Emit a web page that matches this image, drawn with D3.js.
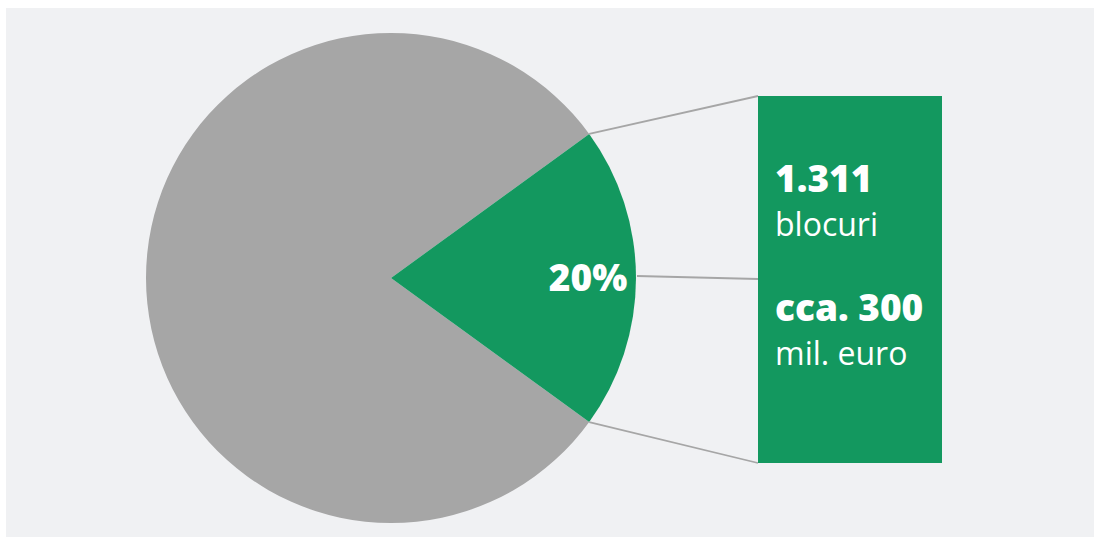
<!DOCTYPE html>
<html>
<head>
<meta charset="utf-8">
<script src="https://cdn.jsdelivr.net/npm/d3@7"></script>
<style>
  body { margin: 0; background: #fff; font-family: "Open Sans", sans-serif; }
  svg { display: block; }
</style>
</head>
<body>
<svg id="chart" width="1094" height="537"></svg>
<script>
// date: ponderea blocurilor
var sliceNames = ["restul", "blocuri"];
var sliceValues = [80, 20];
var sliceColors = ["#a6a6a6", "#13985f"];
var boxLines = [
  { text: "1.311", bold: true },
  { text: "blocuri", bold: false },
  { text: "cca. 300", bold: true },
  { text: "mil. euro", bold: false }
];

var W = 1094, H = 537;
var svg = d3.select("#chart");

svg.append("rect").attr("x", 6).attr("y", 8).attr("width", W - 6).attr("height", H - 8)
  .attr("fill", "#f0f1f3");

var cx = 391, cy = 278, r = 245;
var g = svg.append("g").attr("transform", "translate(" + cx + "," + cy + ")");

// felia verde centrata pe dreapta
var share = sliceValues[1] / d3.sum(sliceValues);
var start = Math.PI / 2 + share * Math.PI;
var pie = d3.pie().sort(null).value(function(d) { return d; })
  .startAngle(start).endAngle(start + 2 * Math.PI);
var arcs = pie(sliceValues);
var arc = d3.arc().innerRadius(0).outerRadius(r);

g.selectAll("path.slice").data(arcs).enter().append("path")
  .attr("class", "slice")
  .attr("d", arc)
  .attr("fill", function(d, i) { return sliceColors[i]; });

var green = arcs[1];
function pt(a, rad) { return [cx + rad * Math.sin(a), cy - rad * Math.cos(a)]; }

// caseta
var box = { x: 758, y: 96, w: 184, h: 367 };
var lines = [
  [pt(green.startAngle, r), [box.x, box.y]],
  [[cx + r + 1, cy - 2], [box.x, cy + 1]],
  [pt(green.endAngle, r), [box.x, box.y + box.h]]
];
svg.selectAll("line.conn").data(lines).enter().append("line")
  .attr("class", "conn")
  .attr("x1", function(d) { return d[0][0]; }).attr("y1", function(d) { return d[0][1]; })
  .attr("x2", function(d) { return d[1][0]; }).attr("y2", function(d) { return d[1][1]; })
  .attr("stroke", "#a6a6a6").attr("stroke-width", 1.8);

svg.append("rect").attr("x", box.x).attr("y", box.y).attr("width", box.w).attr("height", box.h)
  .attr("fill", sliceColors[1]);

// eticheta procent
var labelArc = d3.arc().innerRadius(r * 0.8).outerRadius(r * 0.8);
var c = labelArc.centroid(green);
g.append("text")
  .attr("x", c[0] + 1).attr("y", c[1] + 13)
  .attr("text-anchor", "middle")
  .attr("fill", "#fff").attr("font-weight", 800).attr("font-size", 37)
  .text(Math.round(share * 100) + "%");

var baselines = [192, 236, 321, 365];
svg.selectAll("text.box").data(boxLines).enter().append("text")
  .attr("class", "box")
  .attr("x", box.x + 17)
  .attr("y", function(d, i) { return baselines[i]; })
  .attr("fill", "#fff")
  .attr("font-weight", function(d) { return d.bold ? 800 : 400; })
  .attr("font-size", function(d) { return d.bold ? 37 : 32; })
  .text(function(d) { return d.text; });
</script>
</body>
</html>
